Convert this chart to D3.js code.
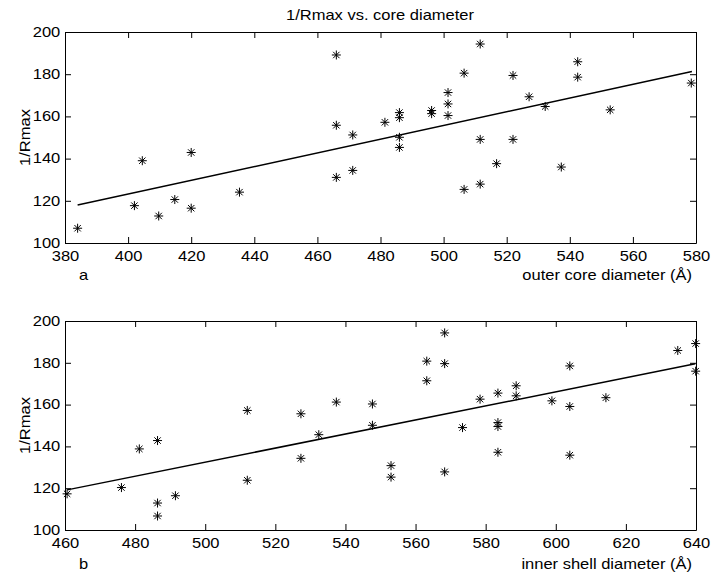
<!DOCTYPE html>
<html>
<head>
<meta charset="utf-8">
<script src="https://cdn.jsdelivr.net/npm/d3@7"></script>
<style>
  body { margin: 0; background: #fff; }
  text { font-family: "Liberation Sans", Arial, Helvetica, sans-serif; font-size: 14px; fill: #000; }
</style>
</head>
<body>
<div id="chart"></div>
<script>
// panel a: outer core diameter vs 1/Rmax
const outerCore = [384, 402, 404.5, 409.7, 414.8, 420, 420, 435.3, 466, 466, 466, 471.2, 471.2, 481.4,
  486, 486, 486, 486, 496.2, 496.2, 501.4, 501.4, 501.4, 506.5, 506.5, 511.6, 511.6, 511.6,
  516.8, 522, 522, 527.1, 532.2, 537.3, 542.5, 542.5, 552.8, 578.5];
const invRmaxA = [107, 117.7, 139, 112.8, 120.6, 142.9, 116.5, 124.1, 189.1, 155.8, 131.1, 151.2, 134.4, 157.2,
  161.8, 159.4, 150.1, 145.3, 162.8, 161.3, 171.3, 165.9, 160.4, 180.5, 125.4, 194.3, 149.1, 127.9,
  137.6, 179.4, 149.1, 169.3, 164.7, 136, 185.9, 178.6, 163.1, 175.8];
const fitAX = [384, 578.7];
const fitAY = [118, 181.3];

// panel b: inner shell diameter vs 1/Rmax
const innerShell = [460.6, 476.1, 481.2, 486.4, 486.4, 486.4, 491.5, 512, 512, 527.3, 527.3, 532.4, 537.4,
  547.7, 547.7, 553, 553, 563.2, 563.2, 568.3, 568.3, 568.3, 573.4, 578.4, 583.5, 583.5, 583.5, 583.5,
  588.7, 588.7, 598.9, 604, 604, 604, 614.3, 634.8, 639.9, 639.9];
const invRmaxB = [117.3, 120.3, 138.8, 142.8, 112.9, 106.7, 116.4, 157.2, 123.8, 155.6, 134.3, 145.6, 161.2,
  160.3, 150.1, 130.8, 125.3, 180.8, 171.4, 194.3, 179.6, 127.8, 149, 162.6, 165.5, 151.4, 149.5, 137.2,
  169, 164.2, 161.8, 178.5, 159.1, 135.8, 163.3, 185.9, 189.2, 176];
const fitBX = [460.6, 639.8];
const fitBY = [119.2, 179.5];

const yTicks = [100, 120, 140, 160, 180, 200];
const xTicksA = [380, 400, 420, 440, 460, 480, 500, 520, 540, 560, 580];
const xTicksB = [460, 480, 500, 520, 540, 560, 580, 600, 620, 640];

const W = 712, H = 576;
const SX = 1.18; // horizontal stretch of the text

const svg = d3.select('#chart').append('svg')
  .attr('width', W)
  .attr('height', H);

svg.append('text')
  .attr('text-anchor', 'middle')
  .attr('transform', `translate(380,20) scale(${SX},1)`)
  .text('1/Rmax vs. core diameter');

const star = 'M0,-4.5V4.5M-4.5,0H4.5M-3.2,-3.2L3.2,3.2M-3.2,3.2L3.2,-3.2';

function drawPanel(p) {
  const x = d3.scaleLinear().domain(p.xDomain).range([p.left, p.right]);
  const y = d3.scaleLinear().domain([100, 200]).range([p.bottom, p.top]);
  const g = svg.append('g');

  const styleAxis = (sel) => {
    sel.select('.domain').attr('stroke', '#000');
    sel.selectAll('.tick line').attr('stroke', '#000');
  };

  g.append('g')
    .attr('transform', `translate(0,${p.bottom})`)
    .call(d3.axisBottom(x).tickValues(p.xTicks).tickSizeInner(-6).tickSizeOuter(0).tickPadding(8))
    .call(styleAxis)
    .call(s => s.selectAll('.tick text').attr('transform', `scale(${SX},1)`));

  g.append('g')
    .attr('transform', `translate(0,${p.top})`)
    .call(d3.axisTop(x).tickValues(p.xTicks).tickSizeInner(-6).tickSizeOuter(0).tickFormat(''))
    .call(styleAxis);

  g.append('g')
    .attr('transform', `translate(${p.left},0)`)
    .call(d3.axisLeft(y).tickValues(yTicks).tickSizeInner(-6).tickSizeOuter(0).tickPadding(4))
    .call(styleAxis)
    .call(s => s.selectAll('.tick text').attr('dy', '0.3em').attr('transform', `scale(${SX},1)`));

  g.append('g')
    .attr('transform', `translate(${p.right},0)`)
    .call(d3.axisRight(y).tickValues(yTicks).tickSizeInner(-6).tickSizeOuter(0).tickFormat(''))
    .call(styleAxis);

  g.selectAll('.tick text').style('font-size', '14px').style('font-family', '"Liberation Sans", Arial, sans-serif');

  // fitted line
  const line = d3.line().x(d => x(d[0])).y(d => y(d[1]));
  g.append('path')
    .datum(d3.zip(p.fitX, p.fitY))
    .attr('d', line)
    .attr('fill', 'none')
    .attr('stroke', '#000')
    .attr('stroke-width', 1.5);

  // asterisk markers
  g.selectAll('path.pt')
    .data(d3.zip(p.xs, p.ys))
    .join('path')
    .attr('class', 'pt')
    .attr('d', star)
    .attr('transform', d => `translate(${x(d[0])},${y(d[1])})`)
    .attr('fill', 'none')
    .attr('stroke', '#000')
    .attr('stroke-width', 1);

  g.append('text')
    .attr('text-anchor', 'middle')
    .attr('transform', `translate(30,${(p.top + p.bottom) / 2}) rotate(-90) scale(${SX},1)`)
    .text('1/Rmax');

  g.append('text')
    .attr('transform', `translate(79,${p.labelY}) scale(${SX},1)`)
    .text(p.tag);

  g.append('text')
    .attr('text-anchor', 'end')
    .attr('transform', `translate(692,${p.labelY}) scale(${SX},1)`)
    .text(p.xLabel);
}

drawPanel({
  xDomain: [380, 580], xTicks: xTicksA, xs: outerCore, ys: invRmaxA,
  fitX: fitAX, fitY: fitAY,
  left: 65, right: 696, top: 32, bottom: 243, labelY: 280,
  tag: 'a', xLabel: 'outer core diameter (Å)'
});

drawPanel({
  xDomain: [460, 640], xTicks: xTicksB, xs: innerShell, ys: invRmaxB,
  fitX: fitBX, fitY: fitBY,
  left: 65, right: 696, top: 321, bottom: 530, labelY: 569,
  tag: 'b', xLabel: 'inner shell diameter (Å)'
});
</script>
</body>
</html>
